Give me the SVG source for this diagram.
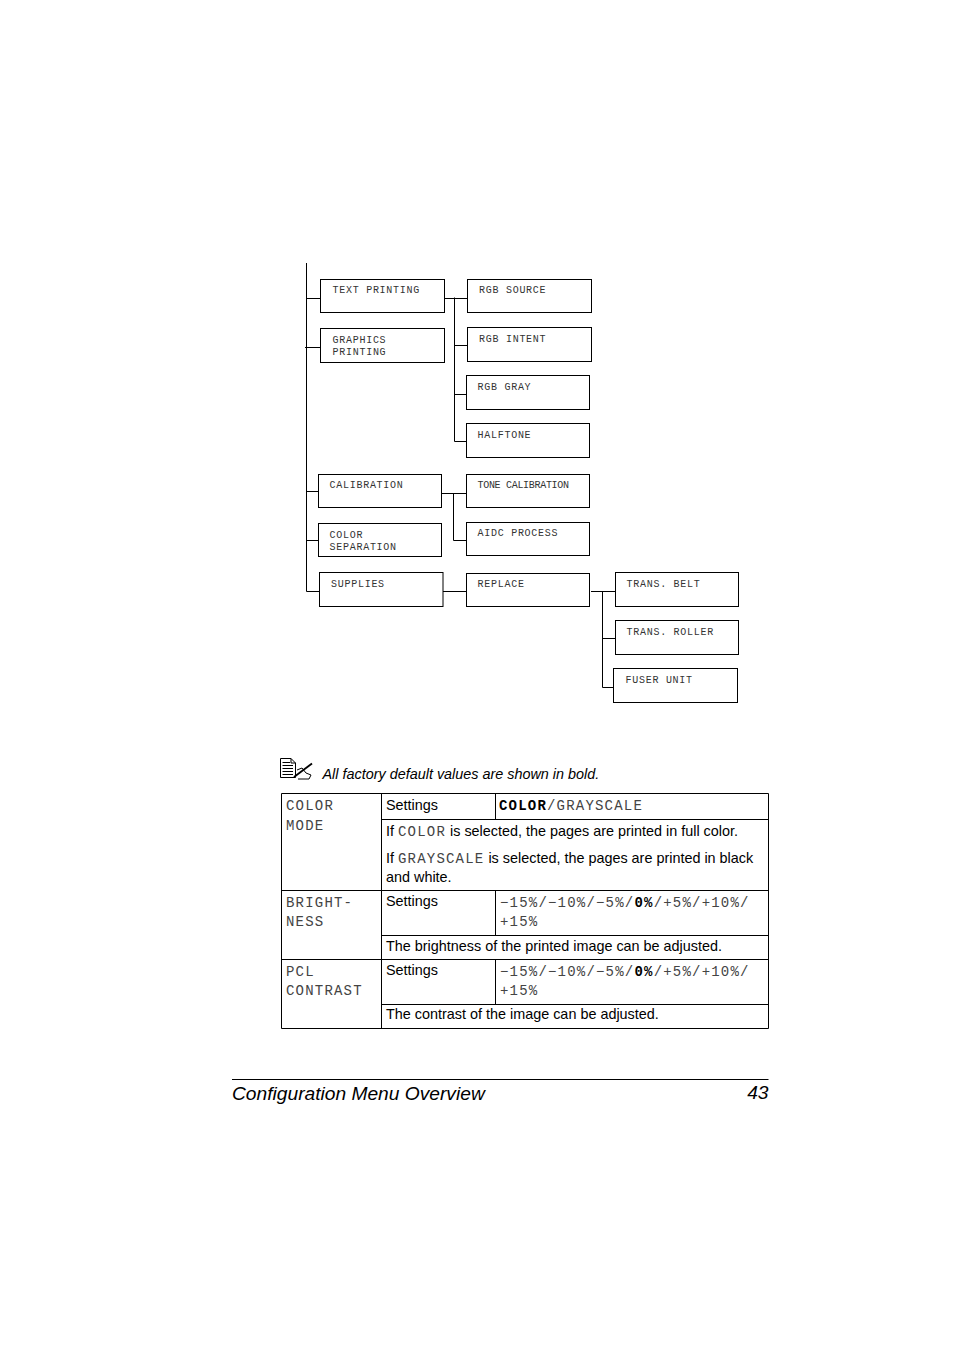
<svg xmlns="http://www.w3.org/2000/svg" width="954" height="1351" viewBox="0 0 954 1351">
<style>
.b{fill:#fff;stroke:#000;stroke-width:1}
.c{fill:none;stroke:#000;stroke-width:1}
.m{font-family:"Liberation Mono",monospace;font-size:10px;letter-spacing:.73px;fill:#333}
.t{font-family:"Liberation Mono",monospace;font-size:14px;letter-spacing:1.2px;fill:#444}
.tb{font-weight:bold;fill:#000}
.s{font-family:"Liberation Sans",Arial,sans-serif;font-size:14.4px;fill:#000}
.f{font-family:"Liberation Sans",Arial,sans-serif;font-size:19.2px;font-style:italic;fill:#000}
</style>
<rect width="954" height="1351" fill="#fff"/>
<g id="connectors">
<path class="c" d="M306.5 263V591.5M306.5 298.5H320M305 347.5H320M306.5 491.5H318M306.5 540.5H318M306.5 591.5H319"/>
<path class="c" d="M444 298.5H467M454.5 297.5V441.5M454.5 345.5H467M454.5 394.5H466M454.5 441.5H467"/>
<path class="c" d="M441 493.5H466M453.5 493.5V540.5H466"/>
<path class="c" d="M442 591.5H466M591 591.5H615M602.5 591.5V687.5H614M602.5 638.5H615"/>
</g>
<g id="n-text-printing"><rect class="b" x="320.5" y="279.5" width="124" height="33"/><text class="m" x="332.5" y="293">TEXT PRINTING</text></g>
<g id="n-graphics-printing"><rect class="b" x="320.5" y="328.5" width="124" height="34"/><text class="m" x="332.5" y="343">GRAPHICS</text><text class="m" x="332.5" y="355">PRINTING</text></g>
<g id="n-rgb-source"><rect class="b" x="467.5" y="279.5" width="124" height="33"/><text class="m" x="479" y="293">RGB SOURCE</text></g>
<g id="n-rgb-intent"><rect class="b" x="467.5" y="327.5" width="124" height="34"/><text class="m" x="479" y="342">RGB INTENT</text></g>
<g id="n-rgb-gray"><rect class="b" x="466.5" y="375.5" width="123" height="34"/><text class="m" x="477.5" y="390">RGB GRAY</text></g>
<g id="n-halftone"><rect class="b" x="466.5" y="423.5" width="123" height="34"/><text class="m" x="477.5" y="438">HALFTONE</text></g>
<g id="n-calibration"><rect class="b" x="318.5" y="474.5" width="123" height="33"/><text class="m" x="329.5" y="488">CALIBRATION</text></g>
<g id="n-color-separation"><rect class="b" x="318.5" y="523.5" width="123" height="33"/><text class="m" x="329.5" y="538">COLOR</text><text class="m" x="329.5" y="550">SEPARATION</text></g>
<g id="n-supplies"><rect class="b" x="319.5" y="572.5" width="123.5" height="34"/><text class="m" x="331" y="587">SUPPLIES</text></g>
<g id="n-tone-calibration"><rect class="b" x="466.5" y="474.5" width="123" height="33"/><text class="m" x="477.5" y="488" style="letter-spacing:-.3px">TONE CALIBRATION</text></g>
<g id="n-aidc-process"><rect class="b" x="466.5" y="522.5" width="123" height="33"/><text class="m" x="477.5" y="536">AIDC PROCESS</text></g>
<g id="n-replace"><rect class="b" x="466.5" y="573.5" width="123" height="33"/><text class="m" x="477.5" y="587">REPLACE</text></g>
<g id="n-trans-belt"><rect class="b" x="615.5" y="572.5" width="123" height="34"/><text class="m" x="626.5" y="587">TRANS. BELT</text></g>
<g id="n-trans-roller"><rect class="b" x="615.5" y="620.5" width="123" height="34"/><text class="m" x="626.5" y="635">TRANS. ROLLER</text></g>
<g id="n-fuser-unit"><rect class="b" x="613.5" y="668.5" width="124" height="34"/><text class="m" x="625.5" y="683">FUSER UNIT</text></g>
<g id="note">
<path fill="none" stroke="#000" stroke-width="1" d="M280.5 758.5H291L295.5 763V777.5H280.5ZM291 758.5V763H295.5"/>
<path fill="none" stroke="#000" stroke-width="1" d="M282.5 762.5H290M282.5 765.5H293M282.5 768.5H293M282.5 771.5H293M282.5 774.5H293"/>
<path fill="none" stroke="#000" stroke-width="1" d="M297 770L302 768L306 773L311 775L309 779H298"/>
<path fill="none" stroke="#000" stroke-width="1.8" d="M294 777L312 763.5"/>
<text class="s" x="322.5" y="779" font-style="italic">All factory default values are shown in bold.</text>
</g>
<g id="table">
<path class="c" d="M281.5 793.5H768.5V1028.5H281.5ZM381.5 793.5V1028.5M495.5 793.5V819.5M381.5 819.5H768.5M281.5 890.5H768.5M495.5 890.5V935.5M381.5 935.5H768.5M281.5 959.5H768.5M495.5 959.5V1004.5M381.5 1004.5H768.5"/>
<text class="t" x="286" y="810">COLOR</text><text class="t" x="286" y="830">MODE</text>
<text class="s" x="386" y="810">Settings</text>
<text class="t" x="499" y="810"><tspan class="tb">COLOR</tspan>/GRAYSCALE</text>
<text class="s" x="386" y="836">If <tspan class="t">COLOR</tspan> is selected, the pages are printed in full color.</text>
<text class="s" x="386" y="863">If <tspan class="t">GRAYSCALE</tspan> is selected, the pages are printed in black</text>
<text class="s" x="386" y="882">and white.</text>
<text class="t" x="286" y="907">BRIGHT-</text><text class="t" x="286" y="926">NESS</text>
<text class="s" x="386" y="906">Settings</text>
<text class="t" x="500" y="907">−15%/−10%/−5%/<tspan class="tb">0%</tspan>/+5%/+10%/</text>
<text class="t" x="500" y="926">+15%</text>
<text class="s" x="386" y="951">The brightness of the printed image can be adjusted.</text>
<text class="t" x="286" y="976">PCL</text><text class="t" x="286" y="995">CONTRAST</text>
<text class="s" x="386" y="975">Settings</text>
<text class="t" x="500" y="976">−15%/−10%/−5%/<tspan class="tb">0%</tspan>/+5%/+10%/</text>
<text class="t" x="500" y="995">+15%</text>
<text class="s" x="386" y="1019">The contrast of the image can be adjusted.</text>
</g>
<g id="footer">
<path class="c" d="M232 1079.5H768.5"/>
<text class="f" x="232" y="1100">Configuration Menu Overview</text>
<text class="f" x="768.5" y="1099" text-anchor="end">43</text>
</g>
</svg>
